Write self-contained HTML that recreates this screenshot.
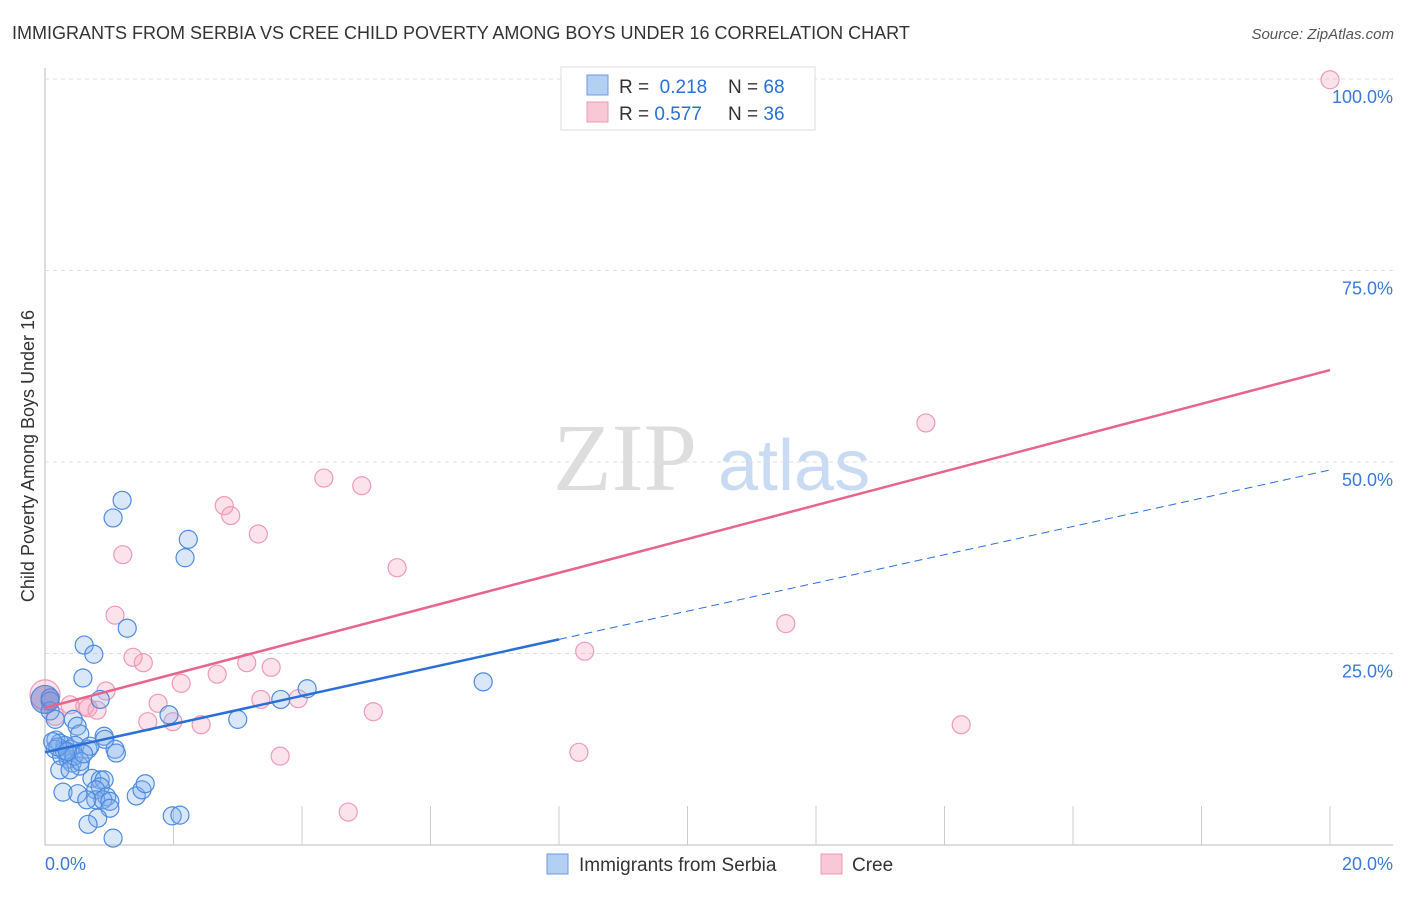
<!DOCTYPE html>
<html><head><meta charset="utf-8"><style>
body{margin:0;background:#fff;font-family:"Liberation Sans",sans-serif;}
</style></head><body>
<svg id="c" width="1406" height="892" font-family="Liberation Sans, sans-serif">
<text x="12" y="39" font-size="18" fill="#333">IMMIGRANTS FROM SERBIA VS CREE CHILD POVERTY AMONG BOYS UNDER 16 CORRELATION CHART</text>
<text x="1394" y="39" font-size="15" fill="#555" text-anchor="end" font-style="italic">Source: ZipAtlas.com</text>
<text x="34" y="456" font-size="18" fill="#333" text-anchor="middle" transform="rotate(-90 34 456)">Child Poverty Among Boys Under 16</text>
<g><text x="553" y="490" font-size="96" fill="#ddd" style="font-family:'Liberation Serif',serif">ZIP</text><text x="718" y="490" font-size="72" fill="#c9dbf3">atlas</text></g>
<g id="grid"></g><g id="marks"></g>
<g>
<rect x="561" y="67" width="254" height="63" fill="#fff" stroke="#ddd"/>
<rect x="587" y="75" width="21" height="20" fill="#b3cff2" stroke="#6a9be0"/>
<rect x="587" y="102" width="21" height="20" fill="#f9c8d6" stroke="#ec9bb3"/>
<text x="619" y="93" font-size="19" fill="#333">R = <tspan fill="#2a6fd6">&#160;0.218</tspan><tspan x="728">N = </tspan><tspan fill="#2a6fd6">68</tspan></text>
<text x="619" y="120" font-size="19" fill="#333">R = <tspan fill="#2a6fd6">0.577</tspan><tspan x="728">N = </tspan><tspan fill="#2a6fd6">36</tspan></text>
</g>
<g>
<rect x="547" y="854" width="21" height="20" fill="#b3cff2" stroke="#6a9be0"/>
<text x="579" y="871" font-size="19" fill="#333">Immigrants from Serbia</text>
<rect x="821" y="854" width="21" height="20" fill="#f9c8d6" stroke="#ec9bb3"/>
<text x="852" y="871" font-size="19" fill="#333">Cree</text>
</g>
</svg>
<script>
const yTicks=[25,50,75,100];
const xTickLabels=["0.0%","20.0%"];
const serbiaX=[1.2,1.06,2.23,2.18,1.28,0.61,0.76,0.59,0.86,4.08,3.67,6.82,1.93,3.0,0.08,0.08,0.16,0.44,0.5,0.54,0.92,0.17,0.23,0.31,0.39,0.47,0.67,0.7,0.16,0.26,0.36,0.42,1.09,1.11,0.93,0.23,0.54,0.39,0.73,0.86,0.92,0.86,0.28,0.51,0.79,0.96,0.79,0.9,1.01,1.42,1.51,1.56,0.65,1.01,0.82,0.67,1.06,1.98,2.1,0.08,0.0,0.3,0.45,0.2,0.12,0.55,0.35,0.6];
const serbiaY=[45.0,42.7,39.9,37.5,28.3,26.1,24.9,21.8,19.0,20.4,19.0,21.3,17.0,16.4,18.8,17.5,16.4,16.4,15.5,14.5,14.2,13.7,13.3,13.0,12.5,13.0,12.5,12.9,12.5,11.6,11.2,10.7,12.5,12.0,13.8,9.8,10.3,9.8,8.7,8.5,8.5,7.6,6.9,6.7,7.2,6.3,5.9,5.9,5.7,6.4,7.2,8.0,5.9,4.8,3.5,2.7,0.9,3.8,3.9,19.2,19.0,12.3,11.6,12.8,13.5,10.9,12.2,11.9];
const creeX=[20.0,13.71,4.34,4.93,2.79,2.89,3.32,1.21,5.48,1.09,11.53,8.4,1.37,1.53,3.14,3.52,2.12,2.68,0.95,1.76,3.36,3.94,0.39,0.62,0.81,0.67,5.11,1.6,1.99,2.43,14.26,8.31,3.66,4.72,0.0,0.16];
const creeY=[99.9,55.1,47.9,46.9,44.3,43.0,40.6,37.9,36.2,30.0,28.9,25.3,24.5,23.8,23.8,23.2,21.1,22.3,20.1,18.5,19.0,19.1,18.3,18.1,17.6,17.9,17.4,16.1,16.1,15.7,15.7,12.1,11.6,4.3,19.6,16.8];
const serbiaLine=[12.1,48.96];
const creeLine=[17.9,62.0];
const NS="http://www.w3.org/2000/svg";
const X=v=>45+v*64.25, Y=v=>845-v*7.66;
function mk(t,a,p){const e=document.createElementNS(NS,t);for(const k in a)e.setAttribute(k,a[k]);p.appendChild(e);return e;}
const g=document.getElementById('grid'),m=document.getElementById('marks');
mk('line',{x1:45,y1:68,x2:45,y2:845,stroke:'#bbb'},g);
mk('line',{x1:45,y1:845,x2:1393,y2:845,stroke:'#bbb'},g);
yTicks.forEach(t=>{
 const l=mk('line',{x1:45,y1:Y(t),x2:1393,y2:Y(t),stroke:'#ddd','stroke-dasharray':'4,4'},g);
 
 
 const tx=mk('text',{x:1393,y:Y(t)+24,'font-size':18,fill:'#3c78d8','text-anchor':'end'},g);tx.textContent=t.toFixed(1)+'%';
 
 
});
for(let i=1;i<=10;i++){const l=mk('line',{x1:X(i*2),y1:806,x2:X(i*2),y2:845,stroke:'#ccc'},g);
 
 }
xTickLabels.forEach((s,i)=>{const t=mk('text',{x:i?1393:45,y:870,'font-size':18,fill:'#3c78d8','text-anchor':i?'end':'start'},g);t.textContent=s;
 
 });
creeX.forEach((x,i)=>{const c=mk('circle',{cx:X(x),cy:Y(creeY[i]),r:i==34?15:9,fill:'rgba(245,160,185,0.3)',stroke:'#ef9ab4','stroke-width':1.2},m);
 
 });
serbiaX.forEach((x,i)=>{const c=mk('circle',{cx:X(x),cy:Y(serbiaY[i]),r:i==60?14:9,fill:i==60?'rgba(110,120,200,0.5)':'rgba(130,175,235,0.3)',stroke:'#4d8ae0','stroke-width':1.2},m);
 
 });
const bY=x=>serbiaLine[0]+(serbiaLine[1]-serbiaLine[0])*x/20;
let l=mk('line',{x1:X(0),y1:Y(bY(0)),x2:X(8),y2:Y(bY(8)),stroke:'#2a6fd6','stroke-width':2.5},m);


l=mk('line',{x1:X(8),y1:Y(bY(8)),x2:X(20),y2:Y(bY(20)),stroke:'#2a6fd6','stroke-width':1,'stroke-dasharray':'8,5'},m);


l=mk('line',{x1:X(0),y1:Y(creeLine[0]),x2:X(20),y2:Y(creeLine[1]),stroke:'#e8648c','stroke-width':2.5},m);


</script>
</body></html>
